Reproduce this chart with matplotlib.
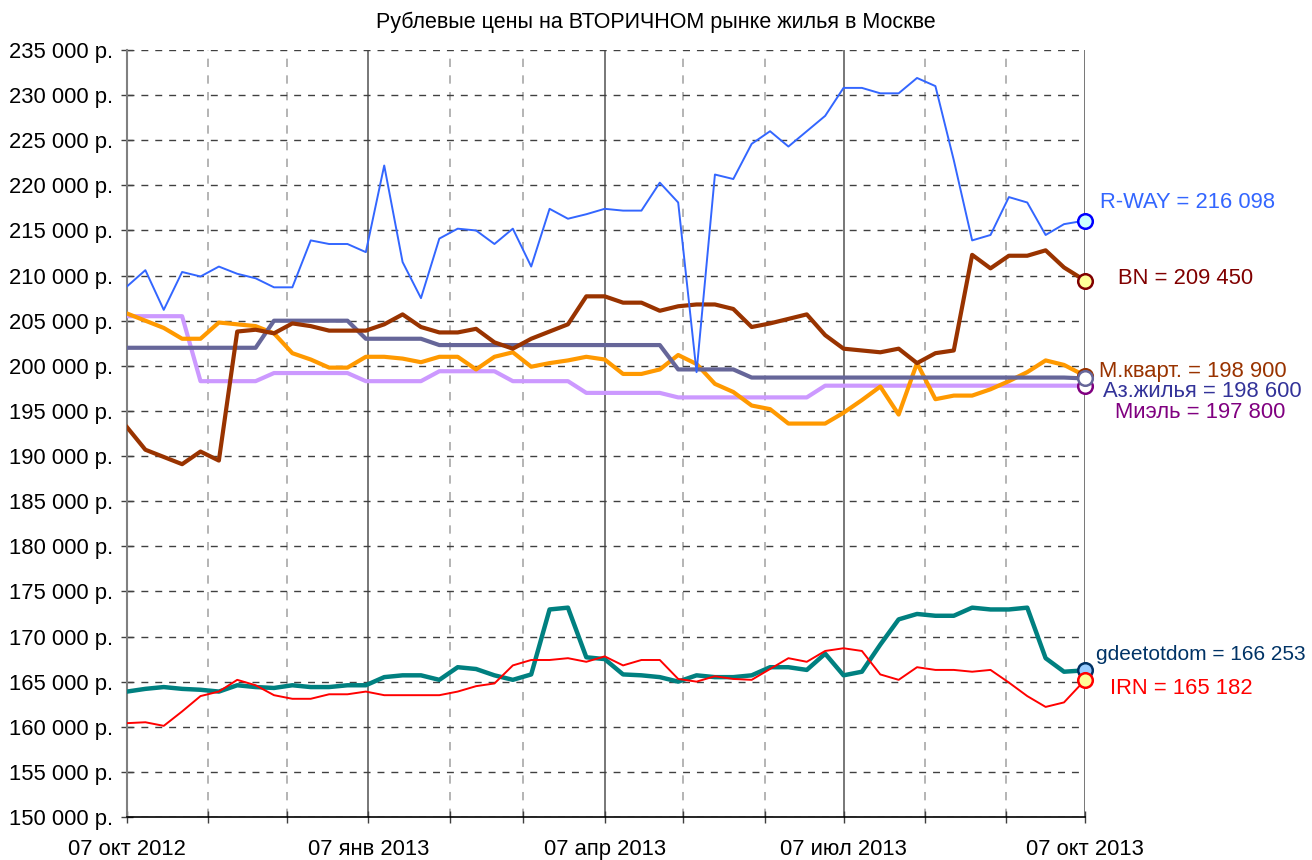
import numpy as np
import pandas as pd
import matplotlib
matplotlib.use("Agg")
import matplotlib.pyplot as plt
import matplotlib.ticker as mticker

plt.rcParams["font.family"] = ["Liberation Sans", "DejaVu Sans"]

# ── данные (еженедельно, 07.10.2012 – 07.10.2013) ─────────────────
dates = pd.date_range("2012-10-07", periods=52, freq="7D").append(pd.DatetimeIndex(["2013-10-07"]))

rway = [208800, 210600, 206200, 210400, 209900, 211000, 210200, 209700, 208700, 208700,
        213900, 213500, 213500, 212600, 222200, 211500, 207500, 214100, 215200, 215000,
        213500, 215200, 211000, 217400, 216300, 216800, 217400, 217200, 217200, 220300,
        218100, 199300, 221200, 220700, 224600, 226000, 224300, 226000, 227700, 230800,
        230800, 230200, 230200, 231900, 231000, 222800, 213900, 214500, 218700, 218100,
        214500, 215700, 216098]

bn = [193200, 190700, 189900, 189100, 190500, 189500, 203800, 204000, 203600, 204700,
      204400, 203900, 203900, 203900, 204600, 205700, 204300, 203700, 203700, 204100,
      202600, 201900, 203000, 203800, 204600, 207700, 207700, 207000, 207000, 206100,
      206600, 206800, 206800, 206300, 204300, 204700, 205200, 205700, 203400, 201900,
      201700, 201500, 201900, 200300, 201400, 201700, 212300, 210800, 212200, 212200,
      212800, 210900, 209450]

mkvart = [205800, 205000, 204200, 203000, 203000, 204800, 204600, 204400, 203600, 201400,
          200700, 199800, 199800, 201000, 201000, 200800, 200400, 201000, 201000, 199600,
          201000, 201500, 199900, 200300, 200600, 201000, 200700, 199100, 199100, 199600,
          201200, 200200, 198000, 197100, 195600, 195200, 193600, 193600, 193600, 194800,
          196200, 197700, 194600, 200300, 196300, 196700, 196700, 197400, 198300, 199300,
          200600, 200100, 198900]

azh = [202000, 202000, 202000, 202000, 202000, 202000, 202000, 202000, 205000, 205000,
       205000, 205000, 205000, 203000, 203000, 203000, 203000, 202300, 202300, 202300,
       202300, 202300, 202300, 202300, 202300, 202300, 202300, 202300, 202300, 202300,
       199600, 199600, 199600, 199600, 198700, 198700, 198700, 198700, 198700, 198700,
       198700, 198700, 198700, 198700, 198700, 198700, 198700, 198700, 198700, 198700,
       198700, 198700, 198600]

miel = [205500, 205500, 205500, 205500, 198300, 198300, 198300, 198300, 199200, 199200,
        199200, 199200, 199200, 198300, 198300, 198300, 198300, 199400, 199400, 199400,
        199400, 198300, 198300, 198300, 198300, 197000, 197000, 197000, 197000, 197000,
        196500, 196500, 196500, 196500, 196500, 196500, 196500, 196500, 197800, 197800,
        197800, 197800, 197800, 197800, 197800, 197800, 197800, 197800, 197800, 197800,
        197800, 197800, 197800]

gdeetotdom = [163900, 164200, 164400, 164200, 164100, 163900, 164600, 164400, 164300, 164600,
              164400, 164400, 164600, 164600, 165500, 165700, 165700, 165200, 166600, 166400,
              165700, 165200, 165800, 173000, 173200, 167700, 167500, 165800, 165700, 165500,
              165000, 165700, 165500, 165500, 165700, 166600, 166600, 166300, 168100, 165700,
              166100, 169100, 171900, 172500, 172300, 172300, 173200, 173000, 173000, 173200,
              167600, 166100, 166253]

irn = [160400, 160500, 160100, 161700, 163400, 163900, 165200, 164600, 163500, 163100,
       163100, 163600, 163600, 163900, 163500, 163500, 163500, 163500, 163900, 164500,
       164800, 166800, 167400, 167400, 167600, 167200, 167800, 166800, 167400, 167400,
       165300, 165000, 165600, 165300, 165200, 166400, 167600, 167200, 168400, 168700,
       168400, 165800, 165200, 166600, 166300, 166300, 166100, 166300, 164900, 163400,
       162200, 162700, 165182]

# (данные, цвет линии, толщина, маркер: заливка, обводка)
series = [
    ("Миэль", miel, "#CC99FF", 3.0, "white", "#800080"),
    ("M.кварт.", mkvart, "#FF9900", 3.0, "white", "#993300"),
    ("Аз.жилья", azh, "#666699", 3.0, "white", "#666699"),
    ("BN", bn, "#993300", 3.0, "#FFFF99", "#800000"),
    ("gdeetotdom", gdeetotdom, "#008080", 3.2, "#99CCFF", "#003366"),
    ("IRN", irn, "#FF0000", 1.4, "#FFFF99", "#FF0000"),
    ("R-WAY", rway, "#3366FF", 1.4, "#CCFFFF", "#0000FF"),
]

fig = plt.figure(figsize=(13.12, 8.6), dpi=100)
ax = fig.add_axes([127 / 1312, 1 - 817 / 860, (1085 - 127) / 1312, (817 - 50) / 860])

# вертикальная сетка: кварталы — сплошная, месяцы — пунктир
months = pd.date_range("2012-10-01", "2013-10-01", freq="MS") + pd.Timedelta(days=6)
for d in months:
    if d.month in (1, 4, 7, 10):
        ax.axvline(d, color="#606060", lw=1.2, zorder=1)
    else:
        ax.axvline(d, color="#A8A8A8", lw=1.2, ls=(0, (5, 5)), zorder=1)

for name, vals, col, lw, mfc, mec in series:
    ax.plot(dates, vals, color=col, lw=lw, zorder=3, solid_joinstyle="round")
    ax.plot(dates[-1:], vals[-1:], "o", ms=10.5, mfc=mfc, mec=mec, mew=1.8,
            zorder=5, clip_on=False)

ax.set_xlim(dates[0], dates[-1])
ax.set_ylim(150000, 235000)
ax.yaxis.set_major_locator(mticker.MultipleLocator(5000))
ax.yaxis.set_major_formatter(mticker.FuncFormatter(lambda v, p: f"{v:,.0f}".replace(",", " ") + " р."))
ax.grid(axis="y", color="#404040", lw=1, ls=(0, (5, 5)), zorder=1)

mon_ru = {1: "янв", 4: "апр", 7: "июл", 10: "окт"}
ax.set_xticks(months)
ax.set_xticklabels([f"07 {mon_ru[d.month]} {d.year}" if d.month in mon_ru else "" for d in months])

ax.tick_params(axis="both", direction="inout", length=8, width=1, color="#404040", labelsize=15.8)
ax.tick_params(axis="x", pad=12)
ax.tick_params(axis="y", pad=6)

for s in ("top", "right"):
    ax.spines[s].set_visible(False)
ax.spines["left"].set_color("#808080")
ax.spines["left"].set_linewidth(1.5)
ax.spines["bottom"].set_color("black")
ax.spines["bottom"].set_linewidth(1.2)

fig.text(656 / 1312, 1 - 22 / 860, "Рублевые цены на ВТОРИЧНОМ рынке жилья в Москве",
         ha="center", va="center", fontsize=15.5)

# подписи последних значений
labels = [
    (1100, 202, "R-WAY = 216 098", "#3366FF", 15.8),
    (1118, 279, "BN = 209 450", "#800000", 15.8),
    (1099, 372, "M.кварт. = 198 900", "#993300", 15.8),
    (1103, 392, "Аз.жилья = 198 600", "#333399", 15.8),
    (1115, 413, "Миэль = 197 800", "#800080", 15.8),
    (1096, 654, "gdeetotdom = 166 253", "#003366", 15.0),
    (1110, 689, "IRN = 165 182", "#FF0000", 15.8),
]
for x, y, txt, col, fs in labels:
    fig.text(x / 1312, 1 - y / 860, txt, color=col, fontsize=fs, ha="left", va="center")

fig.savefig("out.png", dpi=100)
